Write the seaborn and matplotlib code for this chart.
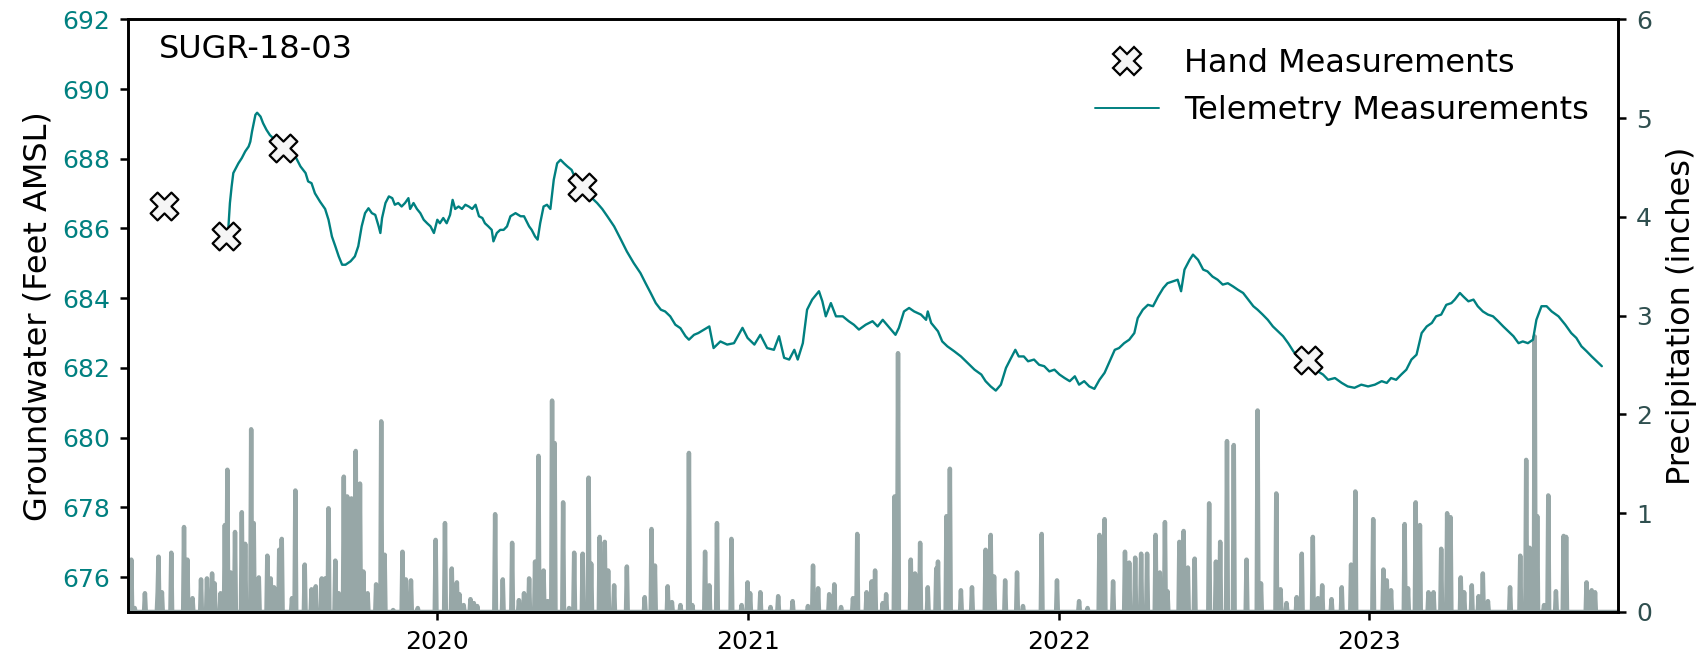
import matplotlib
matplotlib.use("Agg")
import matplotlib.pyplot as plt
import matplotlib.dates as mdates
from matplotlib.lines import Line2D
import numpy as np
import pandas as pd
import seaborn as sns

# ---------------------------------------------------------------- data
well_name = "SUGR-18-03"

hand_dates = ["2019-02-14", "2019-04-27", "2019-07-04", "2020-06-19", "2022-10-21"]
hand_ft = [686.65, 685.77, 688.30, 687.20, 682.22]

telemetry_dates = [
    "2019-04-30", "2019-05-02", "2019-05-04", "2019-05-06", "2019-05-10", "2019-05-12",
    "2019-05-16", "2019-05-20", "2019-05-24", "2019-05-26", "2019-05-28", "2019-05-30",
    "2019-06-01", "2019-06-03", "2019-06-07", "2019-06-10", "2019-06-14", "2019-06-18",
    "2019-06-24", "2019-06-30", "2019-07-08", "2019-07-16", "2019-07-24", "2019-07-30",
    "2019-08-02", "2019-08-06", "2019-08-10", "2019-08-16", "2019-08-22", "2019-08-26",
    "2019-08-30", "2019-09-03", "2019-09-07", "2019-09-11", "2019-09-15", "2019-09-21",
    "2019-09-26", "2019-09-30", "2019-10-04", "2019-10-08", "2019-10-12", "2019-10-16",
    "2019-10-20", "2019-10-24", "2019-10-26", "2019-10-28", "2019-11-01", "2019-11-05",
    "2019-11-09", "2019-11-12", "2019-11-16", "2019-11-20", "2019-11-24", "2019-11-28",
    "2019-11-30", "2019-12-04", "2019-12-08", "2019-12-12", "2019-12-16", "2019-12-20",
    "2019-12-24", "2019-12-28", "2020-01-01", "2020-01-04", "2020-01-08", "2020-01-12",
    "2020-01-16", "2020-01-19", "2020-01-22", "2020-01-26", "2020-01-30", "2020-02-03",
    "2020-02-07", "2020-02-11", "2020-02-15", "2020-02-19", "2020-02-23", "2020-02-26",
    "2020-03-01", "2020-03-05", "2020-03-07", "2020-03-11", "2020-03-15", "2020-03-19",
    "2020-03-23", "2020-03-27", "2020-04-02", "2020-04-08", "2020-04-12", "2020-04-18",
    "2020-04-21", "2020-04-25", "2020-04-28", "2020-05-01", "2020-05-05", "2020-05-09",
    "2020-05-13", "2020-05-17", "2020-05-21", "2020-05-25", "2020-05-29", "2020-06-02",
    "2020-06-07", "2020-06-13", "2020-06-19", "2020-06-25", "2020-07-01", "2020-07-07",
    "2020-07-13", "2020-07-19", "2020-07-27", "2020-08-04", "2020-08-11", "2020-08-19",
    "2020-08-27", "2020-09-02", "2020-09-08", "2020-09-14", "2020-09-20", "2020-09-25",
    "2020-10-01", "2020-10-07", "2020-10-13", "2020-10-19", "2020-10-23", "2020-10-29",
    "2020-11-03", "2020-11-16", "2020-11-21", "2020-11-29", "2020-12-07", "2020-12-15",
    "2020-12-25", "2020-12-31", "2021-01-08", "2021-01-15", "2021-01-23", "2021-01-31",
    "2021-02-06", "2021-02-12", "2021-02-18", "2021-02-24", "2021-02-28", "2021-03-06",
    "2021-03-11", "2021-03-17", "2021-03-25", "2021-03-29", "2021-04-02", "2021-04-08",
    "2021-04-14", "2021-04-22", "2021-04-29", "2021-05-05", "2021-05-11", "2021-05-19",
    "2021-05-27", "2021-06-02", "2021-06-08", "2021-06-16", "2021-06-23", "2021-06-27",
    "2021-07-03", "2021-07-09", "2021-07-15", "2021-07-23", "2021-07-29", "2021-07-31",
    "2021-08-04", "2021-08-12", "2021-08-17", "2021-08-23", "2021-08-31", "2021-09-08",
    "2021-09-16", "2021-09-24", "2021-10-02", "2021-10-07", "2021-10-13", "2021-10-19",
    "2021-10-25", "2021-10-31", "2021-11-05", "2021-11-11", "2021-11-15", "2021-11-21",
    "2021-11-26", "2021-12-03", "2021-12-09", "2021-12-15", "2021-12-21", "2021-12-27",
    "2022-01-02", "2022-01-08", "2022-01-14", "2022-01-20", "2022-01-25", "2022-01-31",
    "2022-02-06", "2022-02-12", "2022-02-18", "2022-02-24", "2022-03-02", "2022-03-08",
    "2022-03-13", "2022-03-19", "2022-03-25", "2022-03-31", "2022-04-04", "2022-04-10",
    "2022-04-16", "2022-04-22", "2022-04-28", "2022-05-04", "2022-05-09", "2022-05-15",
    "2022-05-21", "2022-05-25", "2022-05-29", "2022-06-04", "2022-06-08", "2022-06-14",
    "2022-06-20", "2022-06-25", "2022-07-01", "2022-07-07", "2022-07-13", "2022-07-19",
    "2022-07-25", "2022-07-31", "2022-08-06", "2022-08-12", "2022-08-18", "2022-08-23",
    "2022-08-29", "2022-09-04", "2022-09-10", "2022-09-16", "2022-09-22", "2022-09-28",
    "2022-10-04", "2022-10-09", "2022-10-17", "2022-10-27", "2022-11-02", "2022-11-08",
    "2022-11-14", "2022-11-22", "2022-11-30", "2022-12-07", "2022-12-15", "2022-12-23",
    "2022-12-31", "2023-01-08", "2023-01-16", "2023-01-22", "2023-01-27", "2023-02-02",
    "2023-02-08", "2023-02-14", "2023-02-20", "2023-02-26", "2023-03-04", "2023-03-10",
    "2023-03-16", "2023-03-21", "2023-03-27", "2023-04-02", "2023-04-08", "2023-04-12",
    "2023-04-18", "2023-04-22", "2023-04-28", "2023-05-04", "2023-05-09", "2023-05-15",
    "2023-05-21", "2023-05-27", "2023-06-02", "2023-06-08", "2023-06-14", "2023-06-20",
    "2023-06-26", "2023-07-01", "2023-07-07", "2023-07-13", "2023-07-17", "2023-07-23",
    "2023-07-29", "2023-08-04", "2023-08-12", "2023-08-20", "2023-08-27", "2023-09-02",
    "2023-09-08", "2023-09-14", "2023-09-20", "2023-09-26", "2023-10-02",
]
telemetry_ft = [
    685.95, 686.73, 687.20, 687.59, 687.78, 687.87,
    688.02, 688.21, 688.35, 688.49, 688.78, 689.02,
    689.26, 689.32, 689.21, 689.02, 688.83, 688.68,
    688.54, 688.40, 688.25, 688.16, 687.78, 687.59,
    687.35, 687.30, 687.01, 686.77, 686.56, 686.25,
    685.77, 685.49, 685.20, 684.96, 684.96, 685.06,
    685.20, 685.49, 686.06, 686.44, 686.58, 686.44,
    686.39, 686.06, 685.87, 686.30, 686.73, 686.92,
    686.87, 686.68, 686.73, 686.63, 686.73, 686.87,
    686.56, 686.73, 686.56, 686.44, 686.25, 686.15,
    686.06, 685.87, 686.25, 686.15, 686.30, 686.15,
    686.39, 686.82, 686.56, 686.63, 686.56, 686.68,
    686.63, 686.56, 686.68, 686.35, 686.30, 686.15,
    686.06, 685.96, 685.63, 685.87, 685.96, 685.96,
    686.06, 686.35, 686.44, 686.35, 686.35, 686.06,
    685.96, 685.77, 685.68, 686.15, 686.63, 686.68,
    686.56, 687.40, 687.87, 687.97, 687.87, 687.78,
    687.68, 687.35, 687.20, 687.06, 686.87, 686.73,
    686.56, 686.35, 686.06, 685.68, 685.34, 685.01,
    684.72, 684.43, 684.15, 683.86, 683.67, 683.62,
    683.48, 683.24, 683.14, 682.91, 682.81, 682.95,
    683.00, 683.19, 682.57, 682.76, 682.67, 682.71,
    683.15, 682.86, 682.67, 682.95, 682.57, 682.52,
    682.91, 682.29, 682.24, 682.52, 682.24, 682.71,
    683.67, 683.96, 684.20, 683.91, 683.48, 683.86,
    683.48, 683.48, 683.34, 683.24, 683.10, 683.24,
    683.34, 683.19, 683.38, 683.15, 682.95, 683.15,
    683.62, 683.72, 683.62, 683.53, 683.38, 683.62,
    683.29, 683.05, 682.76, 682.62, 682.48, 682.33,
    682.14, 681.95, 681.81, 681.62, 681.47, 681.35,
    681.52, 682.00, 682.24, 682.52, 682.33, 682.33,
    682.19, 682.24, 682.09, 682.05, 681.90, 681.95,
    681.81, 681.71, 681.62, 681.76, 681.52, 681.62,
    681.47, 681.40, 681.66, 681.86, 682.19, 682.52,
    682.57, 682.71, 682.81, 683.00, 683.43, 683.67,
    683.81, 683.77, 684.05, 684.29, 684.43, 684.48,
    684.53, 684.20, 684.82, 685.10, 685.25, 685.10,
    684.82, 684.77, 684.62, 684.53, 684.39, 684.43,
    684.34, 684.24, 684.15, 683.96, 683.77, 683.67,
    683.53, 683.38, 683.19, 683.05, 682.91, 682.71,
    682.48, 682.33, 682.24, 682.05, 681.90, 681.81,
    681.66, 681.71, 681.57, 681.47, 681.43, 681.52,
    681.47, 681.52, 681.62, 681.57, 681.71, 681.66,
    681.81, 681.95, 682.24, 682.38, 683.00, 683.19,
    683.29, 683.48, 683.53, 683.81, 683.86, 683.96,
    684.15, 684.05, 683.91, 683.96, 683.77, 683.62,
    683.53, 683.48, 683.34, 683.19, 683.05, 682.91,
    682.71, 682.76, 682.71, 682.81, 683.38, 683.77,
    683.77, 683.62, 683.48, 683.24, 683.00, 682.86,
    682.62, 682.48, 682.33, 682.19, 682.05,
]

# daily rainfall totals (days not listed had no rain)
precip_dates = [
    "2019-01-06", "2019-01-10", "2019-01-22", "2019-02-06", "2019-02-07", "2019-02-11",
    "2019-02-22", "2019-03-09", "2019-03-13", "2019-03-19", "2019-03-29", "2019-04-05",
    "2019-04-11", "2019-04-14", "2019-04-21", "2019-04-26", "2019-04-29", "2019-05-03",
    "2019-05-08", "2019-05-16", "2019-05-20", "2019-05-27", "2019-05-30", "2019-06-05",
    "2019-06-15", "2019-06-19", "2019-06-23", "2019-06-29", "2019-07-02", "2019-07-14",
    "2019-07-18", "2019-07-29", "2019-08-06", "2019-08-11", "2019-08-18", "2019-08-22",
    "2019-08-26", "2019-09-03", "2019-09-07", "2019-09-13", "2019-09-17", "2019-09-22",
    "2019-09-27", "2019-10-02", "2019-10-06", "2019-10-11", "2019-10-21", "2019-10-27",
    "2019-10-31", "2019-11-10", "2019-11-21", "2019-11-25", "2019-12-01", "2019-12-09",
    "2019-12-30", "2020-01-10", "2020-01-18", "2020-01-24", "2020-01-27", "2020-02-01",
    "2020-02-09", "2020-02-13", "2020-02-17", "2020-03-09", "2020-03-18", "2020-03-29",
    "2020-04-06", "2020-04-12", "2020-04-18", "2020-04-25", "2020-04-29", "2020-05-05",
    "2020-05-10", "2020-05-15", "2020-05-18", "2020-05-28", "2020-06-04", "2020-06-10",
    "2020-06-20", "2020-06-27", "2020-06-30", "2020-07-10", "2020-07-16", "2020-07-20",
    "2020-07-27", "2020-08-11", "2020-09-01", "2020-09-09", "2020-09-13", "2020-09-28",
    "2020-10-03", "2020-10-13", "2020-10-23", "2020-10-27", "2020-11-11", "2020-11-16",
    "2020-11-25", "2020-12-12", "2020-12-24", "2020-12-31", "2021-01-03", "2021-01-15",
    "2021-01-27", "2021-02-05", "2021-02-22", "2021-03-12", "2021-03-18", "2021-03-24",
    "2021-04-06", "2021-04-12", "2021-04-20", "2021-05-04", "2021-05-09", "2021-05-20",
    "2021-05-26", "2021-05-30", "2021-06-08", "2021-06-12", "2021-06-22", "2021-06-26",
    "2021-07-11", "2021-07-16", "2021-07-22", "2021-07-31", "2021-08-10", "2021-08-12",
    "2021-08-22", "2021-08-26", "2021-09-08", "2021-09-21", "2021-10-07", "2021-10-13",
    "2021-10-17", "2021-10-30", "2021-11-13", "2021-11-20", "2021-12-12", "2021-12-30",
    "2022-01-25", "2022-02-04", "2022-02-18", "2022-02-24", "2022-03-06", "2022-03-20",
    "2022-03-25", "2022-04-01", "2022-04-08", "2022-04-15", "2022-04-25", "2022-04-30",
    "2022-05-06", "2022-05-09", "2022-05-23", "2022-05-28", "2022-06-02", "2022-06-10",
    "2022-06-27", "2022-07-05", "2022-07-10", "2022-07-18", "2022-07-26", "2022-08-10",
    "2022-08-23", "2022-08-27", "2022-09-14", "2022-09-19", "2022-09-26", "2022-10-08",
    "2022-10-14", "2022-10-27", "2022-11-02", "2022-11-07", "2022-11-18", "2022-11-30",
    "2022-12-11", "2022-12-16", "2023-01-06", "2023-01-18", "2023-01-22", "2023-01-27",
    "2023-02-12", "2023-02-16", "2023-02-25", "2023-03-02", "2023-03-12", "2023-03-18",
    "2023-03-27", "2023-04-03", "2023-04-07", "2023-04-19", "2023-04-23", "2023-05-02",
    "2023-05-10", "2023-05-15", "2023-05-21", "2023-06-16", "2023-06-28", "2023-07-05",
    "2023-07-09", "2023-07-15", "2023-07-18", "2023-07-26", "2023-07-31", "2023-08-09",
    "2023-08-18", "2023-08-21", "2023-09-14", "2023-09-20", "2023-09-24",
]
precip_inches = [
    0.53, 0.04, 0.19, 0.20, 0.56, 0.20,
    0.60, 0.86, 0.53, 0.14, 0.33, 0.34,
    0.39, 0.29, 0.19, 0.88, 1.44, 0.40,
    0.81, 1.01, 0.69, 1.85, 0.90, 0.35,
    0.57, 0.34, 0.25, 0.63, 0.74, 0.14,
    1.23, 0.48, 0.23, 0.26, 0.34, 0.34,
    1.05, 0.52, 0.19, 1.37, 1.17, 1.15,
    1.63, 1.30, 0.41, 0.19, 0.28, 1.93,
    0.58, 0.02, 0.61, 0.33, 0.32, 0.04,
    0.73, 0.90, 0.44, 0.30, 0.18, 0.07,
    0.13, 0.09, 0.06, 0.99, 0.33, 0.70,
    0.12, 0.19, 0.34, 0.51, 1.58, 0.42,
    0.11, 2.14, 1.71, 1.11, 0.04, 0.60,
    0.59, 1.36, 0.49, 0.76, 0.71, 0.42,
    0.27, 0.46, 0.15, 0.84, 0.47, 0.26,
    0.10, 0.07, 1.61, 0.07, 0.61, 0.27,
    0.90, 0.74, 0.07, 0.30, 0.19, 0.20,
    0.05, 0.16, 0.11, 0.06, 0.47, 0.24,
    0.18, 0.28, 0.05, 0.14, 0.79, 0.20,
    0.31, 0.42, 0.09, 0.18, 1.17, 2.62,
    0.53, 0.39, 0.70, 0.25, 0.44, 0.51,
    0.97, 1.45, 0.22, 0.25, 0.63, 0.78,
    0.36, 0.32, 0.40, 0.06, 0.79, 0.32,
    0.11, 0.04, 0.78, 0.94, 0.31, 0.61,
    0.50, 0.55, 0.59, 0.59, 0.78, 0.40,
    0.91, 0.21, 0.71, 0.82, 0.45, 0.54,
    1.10, 0.51, 0.71, 1.73, 1.69, 0.53,
    2.04, 0.29, 1.20, 0.23, 0.09, 0.15,
    0.59, 0.76, 0.14, 0.27, 0.13, 0.25,
    0.48, 1.22, 0.94, 0.43, 0.32, 0.22,
    0.89, 0.24, 1.11, 0.88, 0.20, 0.20,
    0.64, 1.00, 0.96, 0.35, 0.20, 0.27,
    0.16, 0.39, 0.11, 0.25, 0.57, 1.54,
    0.65, 2.79, 0.97, 0.07, 1.18, 0.21,
    0.77, 0.76, 0.30, 0.22, 0.20,
]

record_start = "2019-01-02"
record_end = "2023-10-21"
gw_ticks = [676, 678, 680, 682, 684, 686, 688, 690, 692]
precip_ticks = [0, 1, 2, 3, 4, 5, 6]

# ---------------------------------------------------------------- style
sns.set_style("ticks")
plt.rcParams["font.family"] = ["DejaVu Sans"]
plt.rcParams.update({
    "text.color": "black",
    "axes.labelcolor": "black",
    "axes.edgecolor": "black",
    "xtick.color": "black",
    "ytick.color": "black",
})

GW_COLOR = "teal"
RAIN_EDGE = "darkslategray"
RAIN_FILL = "#97a7a7"   # darkslategray at half strength on white

fig = plt.figure(figsize=(8.505, 3.28), dpi=200)
ax = fig.add_axes([0.0752, 0.0671, 0.876, 0.9035])
ax2 = ax.twinx()

# ---------------------------------------------------------------- precipitation (right axis)
days = pd.date_range(record_start, record_end, freq="D")
rain = pd.Series(0.0, index=days)
rain.loc[pd.to_datetime(precip_dates)] = precip_inches

ax2.fill_between(rain.index, rain.values, 0, color=RAIN_FILL, lw=0)
sns.lineplot(x=rain.index, y=rain.values, ax=ax2, color=RAIN_FILL, lw=1.6,
             estimator=None)

# ---------------------------------------------------------------- groundwater (left axis)
sns.lineplot(x=pd.to_datetime(telemetry_dates), y=telemetry_ft, ax=ax,
             color=GW_COLOR, lw=0.85, estimator=None)
sns.scatterplot(x=pd.to_datetime(hand_dates), y=hand_ft, ax=ax, marker="X",
                s=100, color="whitesmoke", edgecolor="black", linewidth=0.8,
                zorder=5)

ax.set_zorder(ax2.get_zorder() + 1)
ax.patch.set_visible(False)

# ---------------------------------------------------------------- axes
ax.set_xlim(pd.Timestamp(record_start), pd.Timestamp(record_end))
ax.xaxis.set_major_locator(mdates.YearLocator())
ax.xaxis.set_major_formatter(mdates.DateFormatter("%Y"))

ax.set_ylim(675, 692)
ax.set_yticks(gw_ticks)
ax2.set_ylim(0, 6)
ax2.set_yticks(precip_ticks)

ax.set_xlabel("")
ax.set_ylabel("Groundwater (Feet AMSL)", fontsize=11.5, labelpad=3, color="black")
ax2.set_ylabel("Precipitation (inches)", fontsize=11.5, labelpad=5, color="black")

ax.tick_params(axis="both", labelsize=9, length=3, width=0.9, colors="black")
ax.tick_params(axis="y", labelcolor=GW_COLOR)
ax2.tick_params(axis="y", labelsize=9, length=3, width=0.9, colors="black",
                labelcolor=RAIN_EDGE)
for a in (ax, ax2):
    for sp in a.spines.values():
        sp.set_linewidth(0.95)
        sp.set_color("black")

ax.text(0.021, 0.975, well_name, transform=ax.transAxes, ha="left", va="top",
        fontsize=11.5, color="black")

handles = [
    Line2D([], [], ls="none", marker="X", markersize=10,
           markerfacecolor="whitesmoke", markeredgecolor="black",
           markeredgewidth=0.8),
    Line2D([], [], color=GW_COLOR, lw=0.7),
]
leg = ax.legend(handles, ["Hand Measurements", "Telemetry Measurements"],
                loc="upper right", frameon=False, fontsize=11.5)
for t in leg.get_texts():
    t.set_color("black")
if ax2.get_legend() is not None:
    ax2.get_legend().remove()

fig.savefig("out.png", dpi=200)
